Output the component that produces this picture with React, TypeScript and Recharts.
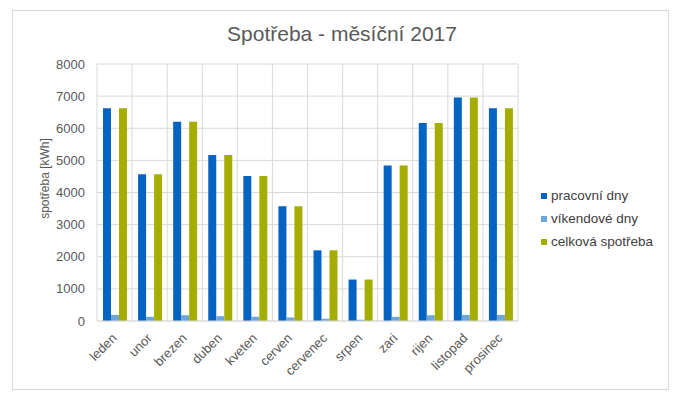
import { Bar, BarChart, CartesianGrid, Label, XAxis, YAxis } from "recharts";

const months = [
  "leden", "unor", "brezen", "duben", "kveten", "cerven",
  "cervenec", "srpen", "zari", "rijen", "listopad", "prosinec",
];
const workdays = [6620, 4570, 6200, 5170, 4510, 3570, 2200, 1290, 4840, 6160, 6960, 6620];
const weekends = [190, 130, 180, 150, 130, 110, 70, 40, 130, 180, 190, 190];
const totals = [6620, 4570, 6200, 5170, 4510, 3570, 2200, 1290, 4840, 6160, 6960, 6620];
const yTicks = [0, 1000, 2000, 3000, 4000, 5000, 6000, 7000, 8000];

const series = [
  { key: "work", name: "pracovní dny", color: "#0563C1" },
  { key: "weekend", name: "víkendové dny", color: "#6CA6DC" },
  { key: "total", name: "celková spotřeba", color: "#A5AD00" },
];

const data = months.map((m, i) => ({
  month: m,
  work: workdays[i],
  weekend: weekends[i],
  total: totals[i],
}));

const FONT = "'Liberation Sans', Arial, sans-serif";

function MonthTick({ x, y, payload }: any) {
  return (
    <text
      x={x + 3}
      y={y + 10}
      transform={`rotate(-45, ${x + 3}, ${y + 10})`}
      textAnchor="end"
      fontSize={13}
      fill="#595959"
      fontFamily={FONT}
    >
      {payload.value}
    </text>
  );
}

function AxisTitle({ viewBox }: any) {
  const cx = viewBox.x + 25;
  const cy = viewBox.y + viewBox.height / 2 - 14;
  return (
    <text
      x={cx}
      y={cy}
      transform={`rotate(-90, ${cx}, ${cy})`}
      textAnchor="middle"
      dominantBaseline="central"
      fontSize={12}
      fill="#595959"
      fontFamily={FONT}
    >
      spotřeba [kWh]
    </text>
  );
}

export default function App() {
  return (
    <div style={{ position: "absolute", left: 0, top: 0, width: 676, height: 398, background: "#fff" }}>
      <div
        style={{
          position: "absolute", left: 12, top: 10, width: 655, height: 378,
          border: "1px solid #d9d9d9",
        }}
      />
      <div
        style={{
          position: "absolute", left: 0, top: 22, width: 684, textAlign: "center",
          fontFamily: FONT, fontSize: 21, color: "#595959",
        }}
      >
        Spotřeba - měsíční 2017
      </div>
      <BarChart
        width={676}
        height={398}
        data={data}
        margin={{ top: 64, right: 158, bottom: 47, left: 20 }}
        barGap={0}
        barSize={8}
        style={{ position: "absolute", left: 0, top: 0 }}
      >
        <CartesianGrid
          stroke="#d9d9d9"
          verticalCoordinatesGenerator={({ offset }: any) =>
            months.map((_, i) => offset.left + (i * offset.width) / months.length).concat(offset.left + offset.width)
          }
        />
        <XAxis
          dataKey="month"
          interval={0}
          height={30}
          tickLine={false}
          axisLine={{ stroke: "#d9d9d9" }}
          tick={<MonthTick />}
        />
        <YAxis
          width={77}
          domain={[0, 8000]}
          ticks={yTicks}
          interval={0}
          tickLine={false}
          axisLine={false}
          tick={{ fontSize: 13, fill: "#595959", fontFamily: FONT }}
          tickMargin={6}
        >
          <Label content={<AxisTitle />} />
        </YAxis>
        {series.map((s) => (
          <Bar key={s.key} dataKey={s.key} name={s.name} fill={s.color} isAnimationActive={false} />
        ))}
      </BarChart>
      <div
        style={{
          position: "absolute", left: 541, top: 184,
          fontFamily: FONT, fontSize: 13.5, color: "#404040",
        }}
      >
        {series.map((s) => (
          <div key={s.key} style={{ display: "flex", alignItems: "center", height: 23 }}>
            <span style={{ width: 6, height: 6, background: s.color, marginRight: 4 }} />
            {s.name}
          </div>
        ))}
      </div>
    </div>
  );
}
